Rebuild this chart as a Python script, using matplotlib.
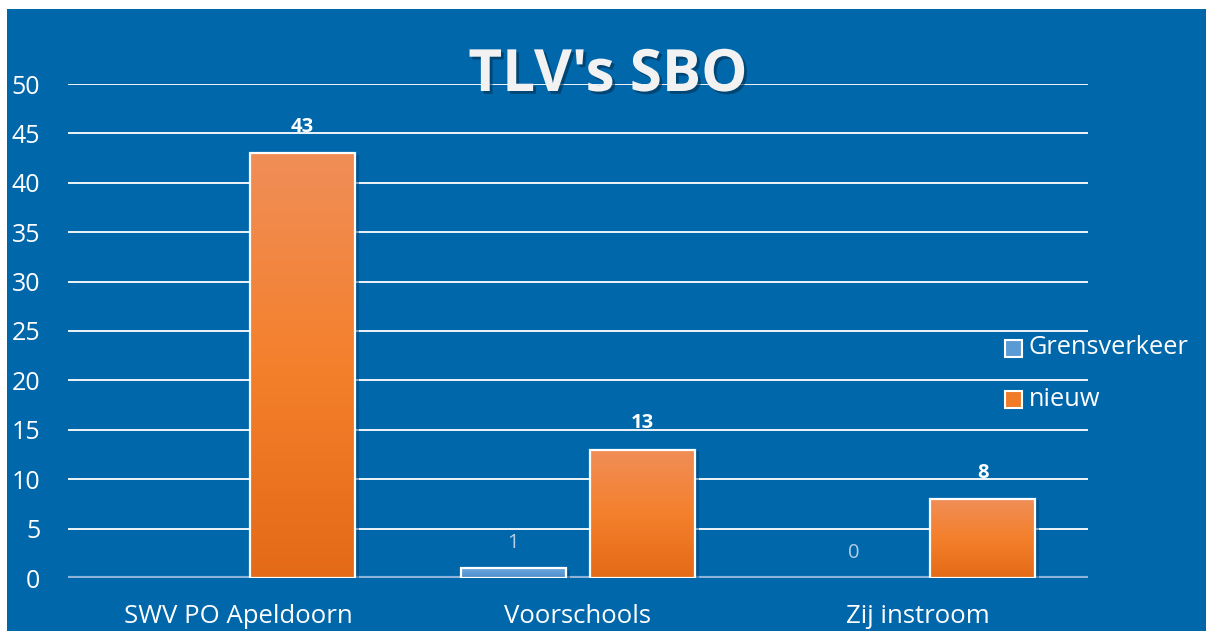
import matplotlib
matplotlib.use("Agg")
import matplotlib.pyplot as plt
import numpy as np
from matplotlib.patches import Rectangle
from matplotlib.colors import LinearSegmentedColormap
import matplotlib.patheffects as pe

categories = ["SWV PO Apeldoorn", "Voorschools", "Zij instroom"]
series_names = ["Grensverkeer", "nieuw"]
grensverkeer = [None, 1, 0]
nieuw = [43, 13, 8]
yticks = [0, 5, 10, 15, 20, 25, 30, 35, 40, 45, 50]

BG = "#0067AB"
FONT = ["Open Sans", "DejaVu Sans"]

fig = plt.figure(figsize=(12.06, 6.31), dpi=100)
fig.patch.set_facecolor("white")
fig.add_artist(Rectangle((7 / 1206, 0), 1, 1 - 9 / 631, transform=fig.transFigure,
                         facecolor=BG, edgecolor="none", zorder=0))

ax = fig.add_axes([68 / 1206, 1 - 578 / 631, 1020 / 1206, (578 - 84) / 631])
ax.set_facecolor("none")
ax.set_xlim(-0.5, 2.5)
ax.set_ylim(0, 50)
for s in ax.spines.values():
    s.set_visible(False)

ax.set_yticks(yticks)
ax.yaxis.grid(True, color="white", linewidth=1.3, zorder=1)
ax.set_axisbelow(True)
ax.axhline(0, color="#8DB3D9", linewidth=3, zorder=2)
ax.tick_params(axis="y", length=0, pad=20, labelsize=18, labelcolor="white")
ax.tick_params(axis="x", length=0, pad=19, labelsize=18.5, labelcolor="white")
ax.set_xticks(range(len(categories)))
ax.set_xticklabels(categories)
for lab in ax.get_xticklabels() + ax.get_yticklabels():
    lab.set_family(FONT)

orange_cmap = LinearSegmentedColormap.from_list("o", ["#E46A17", "#F4802C", "#F08E58"])
blue_cmap = LinearSegmentedColormap.from_list("b", ["#4C8BC9", "#5B9BD5", "#6FA8DC"])
grad = np.linspace(0, 1, 256).reshape(-1, 1)

width = 0.31
offs = [-0.19, 0.19]

def draw_bar(x, h, cmap):
    if h is None:
        return None
    if h > 0:
        sh = Rectangle((x - width / 2 + 0.012, 0), width, h - 0.15, facecolor="#003F6E",
                       alpha=0.45, edgecolor="none", zorder=3)
        ax.add_patch(sh)
        im = ax.imshow(grad, extent=(x - width / 2, x + width / 2, 0, h), origin="lower",
                       cmap=cmap, aspect="auto", zorder=4)
        r = Rectangle((x - width / 2, 0), width, h, facecolor="none", edgecolor="white",
                      linewidth=1.6, zorder=5)
        ax.add_patch(r)
        im.set_clip_path(r)
    return h

for i, cat in enumerate(categories):
    g = grensverkeer[i]
    n = nieuw[i]
    draw_bar(i + offs[0], g, blue_cmap)
    draw_bar(i + offs[1], n, orange_cmap)
    if g is not None:
        ax.annotate(str(g), (i + offs[0], g), xytext=(0, 18), textcoords="offset points",
                    ha="center", va="center", fontsize=14.5, color="#B4CDE6",
                    family=FONT, zorder=6)
    ax.annotate(str(n), (i + offs[1], n), xytext=(0, 19), textcoords="offset points",
                ha="center", va="center", fontsize=14.5, color="white", fontweight="bold",
                family=FONT, zorder=6)

ax.set_xlim(-0.5, 2.5)
ax.set_ylim(0, 50)

fig.text(608 / 1206, 1 - 91 / 631, "TLV's SBO", ha="center", va="baseline", fontsize=42,
         fontweight="bold", color="#F2F2F2", family=FONT, zorder=10,
         path_effects=[pe.withSimplePatchShadow(offset=(2, -2), shadow_rgbFace="#003050", alpha=0.6)])

leg_items = [("Grensverkeer", "#5B9BD5", 348), ("nieuw", "#F07C2A", 399)]
for name, col, yc in leg_items:
    fig.add_artist(Rectangle((1005 / 1206, 1 - (yc + 8.5) / 631), 17 / 1206, 17 / 631,
                             transform=fig.transFigure, facecolor=col, edgecolor="white",
                             linewidth=1.5, zorder=10))
    fig.text(1029 / 1206, 1 - yc / 631, name, ha="left", va="center", fontsize=18.3,
             color="white", family=FONT, zorder=10)

fig.savefig("out.png", dpi=100, facecolor=fig.get_facecolor())
